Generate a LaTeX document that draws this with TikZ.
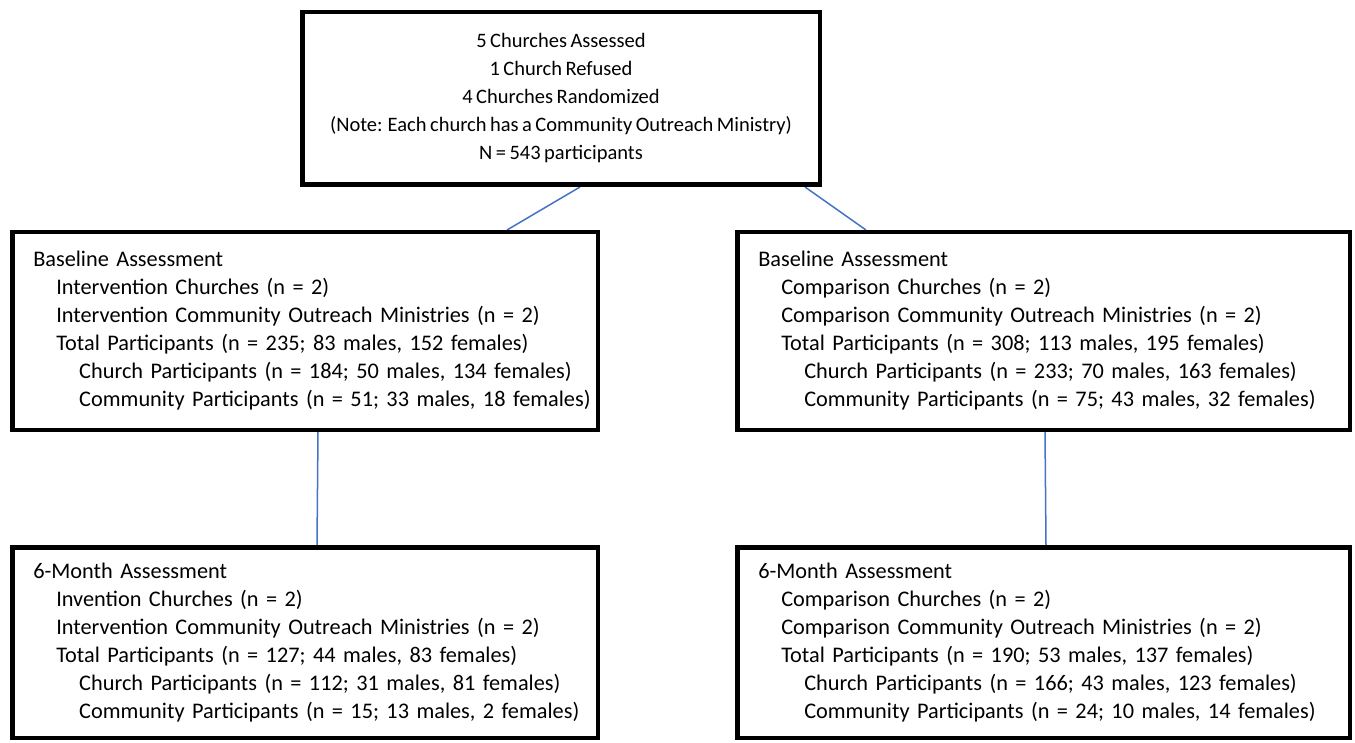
\documentclass[tikz,border=0pt]{standalone}
\usepackage{fontspec}
\setmainfont{Carlito}[WordSpace=0.75]
\usetikzlibrary{positioning,backgrounds}
\definecolor{linkblue}{HTML}{4472C4}
\newcommand{\lvlzero}[1]{\mbox{#1}}
\newcommand{\lvlone}[1]{\mbox{\hspace*{23pt}#1}}
\newcommand{\lvltwo}[1]{\mbox{\hspace*{46pt}#1}}

\begin{document}
\begin{tikzpicture}[x=1pt,y=1pt,font=\fontsize{22.3}{28}\selectfont,
    panel/.style={draw,line width=4.5pt,inner xsep=21pt,inner ysep=0pt,align=left},
    link/.style={draw=linkblue,line width=1.5pt}]
    \useasboundingbox (0,0) rectangle (1355,-743);

    \node[panel,align=center,inner xsep=0pt,minimum width=517.5pt,minimum height=172.5pt,
          font=\fontsize{20.5}{28}\selectfont] (assess) at (561,-98.5)
      {5 Churches Assessed\\1 Church Refused\\4 Churches Randomized\\
       (Note: Each church has a Community Outreach Ministry)\\N = 543 participants};

    \node[panel,minimum width=585.5pt,text width=543.5pt,minimum height=197.5pt] (baseI) at (305,-331)
      {\lvlzero{Baseline Assessment}\\
       \lvlone{Intervention Churches (n = 2)}\\
       \lvlone{Intervention Community Outreach Ministries (n = 2)}\\
       \lvlone{Total Participants (n = 235; 83 males, 152 females)}\\
       \lvltwo{Church Participants (n = 184; 50 males, 134 females)}\\
       \lvltwo{Community Participants (n = 51; 33 males, 18 females)}};
    \node[panel,minimum width=612.5pt,text width=570.5pt,minimum height=197.5pt] (baseC) [right=135pt of baseI]
      {\lvlzero{Baseline Assessment}\\
       \lvlone{Comparison Churches (n = 2)}\\
       \lvlone{Comparison Community Outreach Ministries (n = 2)}\\
       \lvlone{Total Participants (n = 308; 113 males, 195 females)}\\
       \lvltwo{Church Participants (n = 233; 70 males, 163 females)}\\
       \lvltwo{Community Participants (n = 75; 43 males, 32 females)}};

    \node[panel,minimum width=585.5pt,text width=543.5pt,minimum height=190.5pt] (sixI) [below=113pt of baseI]
      {\lvlzero{6-Month Assessment}\\
       \lvlone{Invention Churches (n = 2)}\\
       \lvlone{Intervention Community Outreach Ministries (n = 2)}\\
       \lvlone{Total Participants (n = 127; 44 males, 83 females)}\\
       \lvltwo{Church Participants (n = 112; 31 males, 81 females)}\\
       \lvltwo{Community Participants (n = 15; 13 males, 2 females)}};
    \node[panel,minimum width=612.5pt,text width=570.5pt,minimum height=190.5pt] (sixC) [below=113pt of baseC]
      {\lvlzero{6-Month Assessment}\\
       \lvlone{Comparison Churches (n = 2)}\\
       \lvlone{Comparison Community Outreach Ministries (n = 2)}\\
       \lvlone{Total Participants (n = 190; 53 males, 137 females)}\\
       \lvltwo{Church Participants (n = 166; 43 males, 123 females)}\\
       \lvltwo{Community Participants (n = 24; 10 males, 14 females)}};

    \begin{scope}[on background layer]
      \draw[link] ([xshift=19pt]assess.south) -- ([xshift=202pt]baseI.north);
      \draw[link] ([xshift=244pt]assess.south) -- ([xshift=-177.5pt]baseC.north);
      \draw[link] ([xshift=13pt]baseI.south) -- ([xshift=12pt]sixI.north);
      \draw[link] ([xshift=1.5pt]baseC.south) -- ([xshift=2.5pt]sixC.north);
    \end{scope}
\end{tikzpicture}
\end{document}
